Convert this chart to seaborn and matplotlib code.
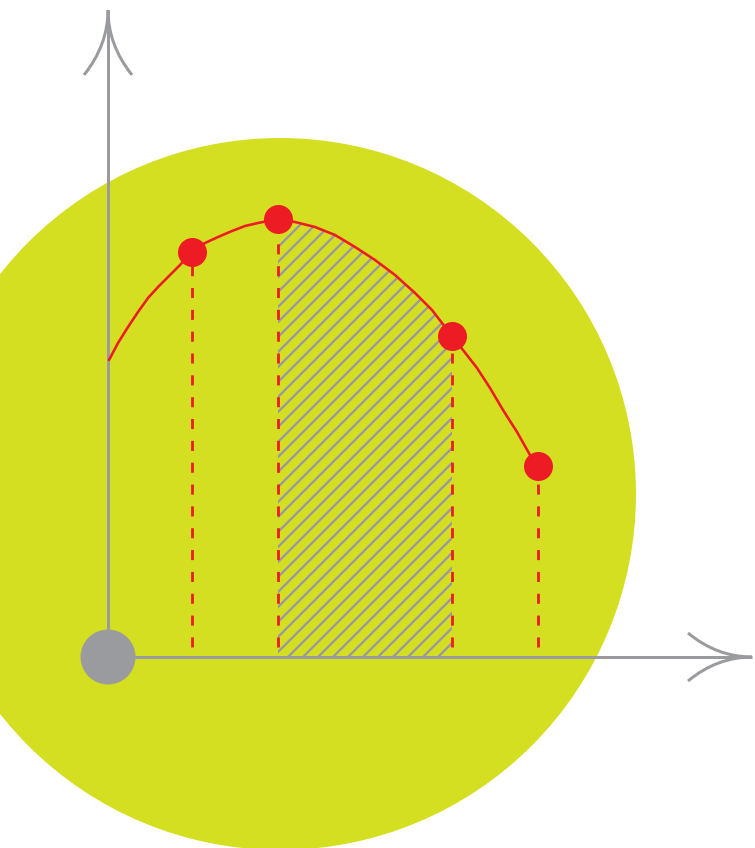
import numpy as np
import pandas as pd
import matplotlib
matplotlib.use("Agg")
import matplotlib.pyplot as plt
from matplotlib.patches import Circle, PathPatch
from matplotlib.path import Path
import seaborn as sns

# values (origin of the drawn axes = 0,0; units ~ pixels)
curve_x = [1, 10, 20, 30, 40, 50, 62, 72, 84, 97, 110, 124, 137, 150, 170,
           187, 207, 227, 247, 267, 287, 307, 324, 344, 355, 369, 382, 395,
           409, 422, 430]
curve_y = [297, 314, 330, 345, 359, 370, 382, 392, 405, 414, 420, 426, 431,
           434, 438, 435, 430, 422, 410, 397, 382, 364, 347, 321, 307, 289,
           269, 247, 225, 202, 191]
point_x = [84, 170, 344, 430]
point_y = [405, 438, 321, 191]
area_from, area_to = 170, 344

YELLOW = "#D5DF21"
RED = "#ED1C24"
GRAY = "#9A9B9F"

DPI = 90
PT = 72 / DPI  # pixels -> points

sns.set_theme(style="white")
plt.rcParams["hatch.linewidth"] = 2.4 * PT

fig = plt.figure(figsize=(755 / DPI, 848 / DPI), dpi=DPI)
ax = fig.add_axes([0, 0, 1, 1])
ax.set_axis_off()

# background disc
ax.add_patch(Circle((172, 163), 356, color=YELLOW, zorder=0, lw=0))

curve = pd.DataFrame({"x": curve_x, "y": curve_y})
pts = pd.DataFrame({"x": point_x, "y": point_y})

# hatched area under the curve between the 2nd and 3rd points
sub = curve[(curve.x >= area_from) & (curve.x <= area_to)]
ax.fill_between(sub.x, 0, sub.y, facecolor="none", edgecolor=GRAY,
                hatch="//", linewidth=0, zorder=1)

# axes with curved arrow heads
ax.plot([0, 0], [0, 647], color=GRAY, lw=3 * PT, zorder=2, solid_capstyle="butt")
ax.plot([0, 644], [0, 0], color=GRAY, lw=3 * PT, zorder=2, solid_capstyle="butt")
heads = [
    [(0, 647), (0, 612), (-24, 582)],
    [(0, 647), (0, 612), (24, 582)],
    [(644, 0), (609, 0), (580, 24)],
    [(644, 0), (609, 0), (580, -24)],
]
for verts in heads:
    p = Path(verts, [Path.MOVETO, Path.CURVE3, Path.CURVE3])
    ax.add_patch(PathPatch(p, fill=False, edgecolor=GRAY, lw=3 * PT, zorder=2))

# dashed drop lines
for x, y in zip(point_x, point_y):
    ax.plot([x, x], [10, y], color=RED, lw=2.8 * PT,
            linestyle=(0, (3.6, 4.2)), zorder=3)

sns.lineplot(data=curve, x="x", y="y", sort=False, color=RED,
             lw=2.6 * PT, ax=ax, zorder=4)
sns.scatterplot(data=pts, x="x", y="y", color=RED, s=(29 * PT) ** 2,
                linewidth=0, ax=ax, zorder=5)

# origin dot
ax.add_patch(Circle((0, 0), 27.5, color=GRAY, lw=0, zorder=6))

ax.set_xlim(-108, 647)
ax.set_ylim(-191, 657)
fig.savefig("out.png", dpi=DPI)
